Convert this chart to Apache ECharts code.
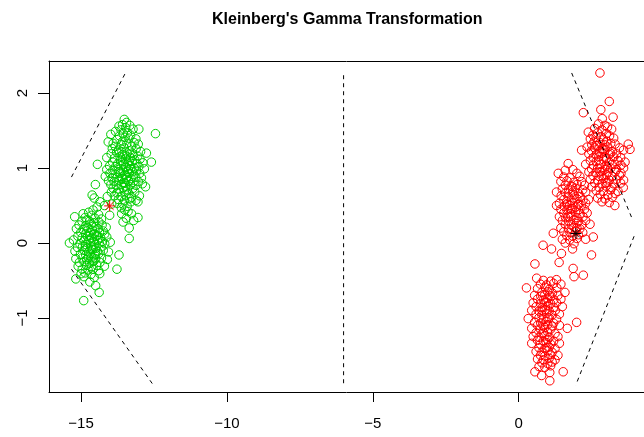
<!DOCTYPE html>
<html>
<head>
<meta charset="utf-8">
<script src="https://cdn.jsdelivr.net/npm/echarts@6/dist/echarts.min.js"></script>
<style>
  html, body { margin: 0; padding: 0; background: #fff; }
  #chart { width: 644px; height: 437px; }
</style>
</head>
<body>
<div id="chart"></div>
<script>
// points, cluster by cluster
const greenUpper = [
  [-13.52,1.65],[-13.44,1.61],[-13.58,1.58],[-13.7,1.56],[-13.47,1.54],[-13.33,1.57],
  [-13.82,1.49],[-13.63,1.51],[-13.41,1.47],[-13.22,1.52],[-13.02,1.52],[-13.55,1.46],
  [-13.98,1.45],[-13.68,1.43],[-13.49,1.41],[-13.3,1.44],[-12.45,1.46],[-13.12,1.39],
  [-13.77,1.38],[-13.57,1.36],[-13.36,1.4],[-13.18,1.34],[-13.9,1.33],
  [-14.07,1.35],[-13.83,1.29],[-13.62,1.31],[-13.43,1.33],[-13.27,1.29],[-13.04,1.32],
  [-13.93,1.26],[-13.71,1.24],[-13.52,1.27],[-13.34,1.23],[-13.11,1.26],[-12.96,1.22],
  [-13.97,1.19],[-13.78,1.21],[-13.58,1.18],[-13.42,1.2],[-13.22,1.17],[-12.76,1.2],[-13.06,1.16],
  [-14.12,1.14],[-13.86,1.13],[-13.66,1.15],[-13.48,1.12],[-13.31,1.14],[-13.16,1.11],[-12.98,1.12],
  [-13.92,1.08],[-13.74,1.06],[-13.57,1.09],[-13.4,1.07],[-13.25,1.09],[-13.08,1.06],[-12.88,1.07],
  [-14.44,1.05],[-14.02,1.03],[-13.81,1.02],[-13.63,1.03],[-13.47,1.01],[-13.33,1.03],[-13.17,1.0],[-13.02,1.02],[-12.59,1.08],
  [-14.12,0.98],[-13.91,0.97],[-13.72,0.98],[-13.55,0.96],[-13.38,0.98],[-13.23,0.95],[-13.1,0.97],[-12.83,0.99],
  [-14.01,0.93],[-13.83,0.92],[-13.66,0.93],[-13.5,0.91],[-13.35,0.93],[-13.19,0.91],[-12.99,0.93],
  [-14.17,0.89],[-13.94,0.87],[-13.76,0.88],[-13.59,0.86],[-13.44,0.88],[-13.28,0.86],[-13.13,0.88],[-12.93,0.87],
  [-14.06,0.83],[-13.87,0.82],[-13.7,0.84],[-13.53,0.81],[-13.38,0.83],[-13.22,0.81],[-13.04,0.82],
  [-13.98,0.78],[-13.79,0.77],[-13.62,0.78],[-13.47,0.76],[-13.31,0.78],[-13.12,0.77],[-12.9,0.79],
  [-14.51,0.78],[-13.9,0.73],[-13.72,0.72],[-13.56,0.74],[-13.41,0.71],[-13.22,0.73],[-12.79,0.75],
  [-13.96,0.68],[-13.77,0.67],[-13.52,0.69],[-13.36,0.66],[-13.16,0.68],
  [-14.62,0.64],[-13.86,0.63],[-13.63,0.62],[-13.46,0.64],[-13.27,0.61],[-13.0,0.63],
  [-13.72,0.58],[-13.51,0.57],[-13.33,0.59],[-13.12,0.57],
  [-13.76,0.53],[-13.57,0.52],[-13.29,0.55],[-13.05,0.55],
  [-13.62,0.47],[-13.42,0.49],[-13.5,0.44],[-13.39,0.42],[-13.61,0.39],[-13.27,0.39],
  [-13.05,0.34],[-13.56,0.28],[-13.35,0.2],[-13.35,0.06],[-13.2,0.3],[-13.45,0.33],
  [-14.55,0.6],[-14.35,0.55],[-14.2,0.5],[-14.45,0.48],[-14.1,0.62],[-13.95,0.52],
  [-13.6,1.22],[-13.45,1.16],[-13.55,1.05],[-13.4,0.95],[-13.6,0.88],[-13.3,0.99],
  [-13.5,0.8],[-13.7,0.95],[-13.35,1.1],[-13.65,1.1],[-13.45,0.85],[-13.25,1.2]
];

const greenLower = [
  [-14.59,0.44],[-14.93,0.39],[-14.74,0.41],[-14.4,0.38],[-14.63,0.37],
  [-15.22,0.35],[-14.86,0.34],[-14.52,0.33],[-14.02,0.37],[-14.3,0.32],
  [-14.97,0.29],[-14.71,0.29],[-14.57,0.27],[-14.39,0.28],[-14.8,0.31],
  [-15.07,0.24],[-14.84,0.23],[-14.66,0.25],[-14.49,0.22],[-14.28,0.24],[-14.14,0.21],
  [-15.16,0.19],[-14.93,0.18],[-14.76,0.2],[-14.61,0.17],[-14.42,0.19],[-14.24,0.16],
  [-15.01,0.14],[-14.85,0.12],[-14.69,0.14],[-14.54,0.12],[-14.37,0.14],[-14.19,0.12],
  [-15.11,0.09],[-14.96,0.07],[-14.79,0.09],[-14.64,0.07],[-14.48,0.09],[-14.33,0.07],[-14.12,0.08],
  [-15.26,0.04],[-14.9,0.03],[-14.73,0.04],[-14.58,0.02],[-14.43,0.04],[-14.27,0.02],
  [-15.4,0.0],[-15.04,-0.01],[-14.84,-0.02],[-14.68,0.0],[-14.53,-0.02],[-14.38,0.0],[-14.19,-0.01],[-14.0,0.01],
  [-15.12,-0.06],[-14.95,-0.05],[-14.79,-0.07],[-14.64,-0.05],[-14.49,-0.07],[-14.31,-0.05],
  [-15.21,-0.11],[-14.89,-0.1],[-14.74,-0.12],[-14.6,-0.09],[-14.44,-0.11],[-14.24,-0.1],[-14.06,-0.12],
  [-15.02,-0.15],[-14.84,-0.16],[-14.69,-0.14],[-14.54,-0.16],[-14.39,-0.14],[-13.7,-0.16],
  [-15.18,-0.21],[-14.96,-0.2],[-14.81,-0.22],[-14.64,-0.19],[-14.5,-0.21],[-14.3,-0.2],[-14.1,-0.22],
  [-15.06,-0.26],[-14.9,-0.25],[-14.71,-0.27],[-14.56,-0.24],[-14.35,-0.26],
  [-15.1,-0.31],[-14.81,-0.3],[-14.64,-0.32],[-14.46,-0.3],[-14.2,-0.31],
  [-14.96,-0.35],[-14.76,-0.36],[-14.59,-0.35],[-14.4,-0.37],[-13.77,-0.35],
  [-15.0,-0.41],[-14.86,-0.4],[-14.66,-0.42],[-14.36,-0.41],
  [-14.9,-0.45],[-14.55,-0.46],[-15.18,-0.48],[-14.7,-0.52],
  [-14.5,-0.57],[-14.38,-0.66],[-14.91,-0.77],
  [-14.7,0.1],[-14.55,0.05],[-14.65,-0.08],[-14.8,0.16],[-14.5,-0.15],
  [-14.6,0.22],[-14.75,-0.2],[-14.45,0.1],[-14.85,-0.05],[-14.6,-0.25]
];

const redUpper = [
  [2.79,2.27],[3.11,1.89],[2.82,1.78],[2.22,1.74],[3.24,1.68],[2.87,1.66],
  [2.74,1.59],[2.96,1.57],[2.61,1.53],[2.86,1.51],[3.19,1.52],[3.05,1.55],
  [2.39,1.48],[2.71,1.47],[3.01,1.46],[2.55,1.44],[2.82,1.42],[3.12,1.43],
  [2.46,1.39],[2.66,1.41],[2.91,1.38],[3.26,1.4],[2.59,1.35],[2.79,1.34],[3.02,1.36],[3.16,1.33],
  [2.51,1.31],[2.7,1.3],[2.96,1.31],[3.31,1.32],[3.76,1.32],
  [2.35,1.28],[2.61,1.27],[2.86,1.26],[3.06,1.28],[3.46,1.27],
  [2.16,1.24],[2.5,1.23],[2.76,1.22],[2.96,1.24],[3.21,1.22],[3.6,1.24],[3.82,1.25],
  [2.41,1.19],[2.66,1.18],[2.86,1.2],[3.11,1.18],[3.36,1.19],
  [2.56,1.14],[2.75,1.15],[3.01,1.13],[3.26,1.15],[3.5,1.14],
  [2.46,1.1],[2.66,1.09],[2.91,1.11],[3.11,1.08],[3.41,1.1],[3.65,1.08],
  [2.3,1.05],[2.56,1.04],[2.81,1.05],[3.0,1.03],[3.21,1.05],[3.51,1.04],
  [2.5,0.99],[2.71,1.0],[2.95,0.98],[3.16,1.0],[3.36,0.98],[3.6,1.0],
  [2.41,0.95],[2.65,0.94],[2.86,0.96],[3.06,0.94],[3.31,0.95],[3.51,0.93],
  [2.55,0.9],[2.76,0.89],[3.01,0.91],[3.21,0.89],[3.46,0.9],
  [2.46,0.85],[2.71,0.84],[2.91,0.86],[3.11,0.84],[3.36,0.85],[3.6,0.84],
  [2.61,0.8],[2.86,0.79],[3.05,0.81],[3.26,0.79],[3.5,0.8],
  [2.51,0.75],[2.76,0.74],[3.0,0.76],[3.2,0.74],[3.59,0.74],
  [2.66,0.7],[2.91,0.69],[3.15,0.71],[3.41,0.69],
  [2.8,0.65],[3.06,0.64],[3.31,0.66],[2.71,0.6],[2.96,0.59],[3.21,0.61],
  [2.86,0.55],[3.11,0.54],[3.3,0.5],
  [2.9,1.25],[2.75,1.1],[3.05,1.0],[2.85,0.9],[3.15,1.2],
  [2.65,1.3],[3.0,0.8],[2.95,1.15],[3.3,1.05],[2.8,0.95]
];

const redMiddle = [
  [1.7,1.06],[1.6,0.97],[1.86,0.98],[1.36,0.93],[2.0,0.93],
  [1.55,0.88],[1.76,0.87],[2.1,0.89],[1.45,0.82],[1.66,0.83],[1.9,0.81],[2.16,0.82],
  [1.6,0.77],[1.81,0.76],[2.01,0.78],[2.26,0.77],[1.5,0.72],[1.71,0.71],[1.95,0.73],[2.2,0.71],
  [1.3,0.68],[1.61,0.67],[1.85,0.68],[2.06,0.66],[2.3,0.68],
  [1.46,0.63],[1.7,0.62],[1.91,0.64],[2.11,0.62],
  [1.55,0.58],[1.8,0.57],[2.0,0.59],[2.21,0.57],[2.4,0.58],
  [1.4,0.53],[1.66,0.52],[1.86,0.54],[2.06,0.52],[2.3,0.53],
  [1.3,0.5],[1.56,0.49],[1.75,0.5],[1.96,0.48],[2.15,0.5],
  [1.45,0.45],[1.66,0.44],[1.85,0.46],[2.05,0.44],[2.26,0.45],
  [1.55,0.4],[1.76,0.39],[1.95,0.41],[2.11,0.39],[2.35,0.4],
  [1.4,0.35],[1.61,0.34],[1.8,0.36],[2.0,0.34],[2.21,0.35],
  [1.5,0.3],[1.71,0.29],[1.9,0.31],[2.06,0.29],[2.3,0.3],
  [1.6,0.25],[1.81,0.24],[2.0,0.26],[2.16,0.24],[2.45,0.25],
  [1.45,0.2],[1.71,0.19],[1.9,0.21],[2.1,0.19],
  [1.55,0.15],[1.76,0.14],[1.96,0.16],[2.2,0.14],
  [1.19,0.13],[2.56,0.08],[1.65,0.1],[1.86,0.09],[2.05,0.11],
  [1.5,0.05],[1.75,0.04],[2.0,0.06],[2.3,0.05],
  [1.6,0.0],[1.9,-0.01],[0.84,-0.03],[1.13,-0.08],[1.85,-0.08],[1.47,-0.14],[2.5,-0.16],
  [1.8,0.45],[1.9,0.6],[1.7,0.35],[2.0,0.2],[1.85,0.75],[1.65,0.55]
];

const redLower = [
  [1.39,-0.26],[0.56,-0.28],[1.87,-0.34],[2.22,-0.43],[1.9,-0.45],[0.62,-0.47],
  [0.85,-0.5],[1.1,-0.51],[1.3,-0.49],[0.75,-0.55],[0.96,-0.56],[1.2,-0.54],[1.45,-0.55],
  [0.27,-0.6],[0.65,-0.61],[0.9,-0.59],[1.05,-0.62],[1.31,-0.6],
  [0.8,-0.66],[1.0,-0.65],[1.16,-0.67],[1.59,-0.66],
  [0.55,-0.7],[0.76,-0.71],[0.9,-0.69],[1.11,-0.71],[1.35,-0.7],
  [0.65,-0.75],[0.85,-0.76],[1.0,-0.74],[1.21,-0.76],[1.45,-0.75],
  [0.5,-0.8],[0.75,-0.81],[0.95,-0.79],[1.1,-0.81],[1.3,-0.8],
  [0.6,-0.85],[0.81,-0.86],[1.0,-0.84],[1.2,-0.86],[1.5,-0.85],
  [0.45,-0.9],[0.7,-0.91],[0.9,-0.89],[1.05,-0.91],[1.26,-0.9],
  [0.6,-0.95],[0.8,-0.96],[0.96,-0.94],[1.15,-0.96],[1.4,-0.95],
  [0.33,-1.01],[0.7,-1.0],[0.86,-1.02],[1.05,-1.0],[1.3,-1.02],
  [0.55,-1.06],[0.76,-1.07],[0.95,-1.05],[1.2,-1.07],[1.99,-1.06],
  [0.65,-1.1],[0.85,-1.11],[1.0,-1.09],[1.16,-1.11],[1.4,-1.1],
  [0.45,-1.14],[0.75,-1.15],[0.9,-1.13],[1.1,-1.15],[1.67,-1.14],
  [0.6,-1.2],[0.8,-1.21],[1.0,-1.19],[1.25,-1.21],
  [0.5,-1.25],[0.7,-1.26],[0.9,-1.24],[1.05,-1.26],[1.35,-1.25],
  [0.65,-1.3],[0.85,-1.31],[1.0,-1.29],[1.2,-1.31],
  [0.45,-1.34],[0.75,-1.35],[0.95,-1.33],[1.1,-1.35],[1.4,-1.34],
  [0.7,-1.4],[0.9,-1.41],[1.05,-1.39],[1.25,-1.41],
  [0.6,-1.45],[0.8,-1.46],[1.0,-1.44],[1.15,-1.46],
  [0.75,-1.5],[0.9,-1.51],[1.1,-1.49],[1.35,-1.5],
  [0.65,-1.55],[0.85,-1.56],[1.05,-1.54],[1.25,-1.56],
  [0.8,-1.6],[1.0,-1.61],[1.15,-1.59],
  [0.7,-1.65],[0.9,-1.66],[1.1,-1.64],
  [0.56,-1.72],[1.53,-1.72],[1.07,-1.73],[0.79,-1.77],[1.07,-1.84],
  [0.9,-0.8],[1.0,-1.0],[0.85,-1.2],[1.05,-0.7],[0.95,-1.4],[0.8,-0.9]
];

const redStar = [[-14.02, 0.495]];
const blackStar = [[1.965, 0.126]];

const dashLines = [
  [[-15.33, 0.88], [-13.48, 2.27]],
  [[-15.33, -0.35], [-12.50, -1.91]],
  [[-6.0, 2.24], [-6.0, -1.92]],
  [[1.82, 2.27], [3.92, 0.30]],
  [[3.96, 0.09], [1.96, -1.90]]
];

const xTicks = [-15, -10, -5, 0];
const yTicks = [-1, 0, 1, 2];

const starPath = 'path://M0,-1L0,1M-1,0L1,0M-0.707,-0.707L0.707,0.707M-0.707,0.707L0.707,-0.707';
const minus = v => String(v).replace('-', '\u2212');

function circles(data, color) {
  return {
    type: 'scatter',
    data: data,
    symbol: 'circle',
    symbolSize: 8.5,
    itemStyle: { color: 'rgba(0,0,0,0)', borderColor: color, borderWidth: 1, opacity: 1 },
    silent: true
  };
}

function star(data, color) {
  return {
    type: 'scatter',
    data: data,
    symbol: starPath,
    symbolSize: 11,
    itemStyle: { color: 'rgba(0,0,0,0)', borderColor: color, borderWidth: 1, opacity: 1 },
    silent: true
  };
}

const series = [
  circles(greenUpper, '#00CD00'),
  circles(greenLower, '#00CD00'),
  circles(redUpper, '#FF0000'),
  circles(redMiddle, '#FF0000'),
  circles(redLower, '#FF0000'),
  star(redStar, '#FF0000'),
  star(blackStar, '#000000')
];
dashLines.forEach(seg => {
  series.push({
    type: 'line',
    data: seg,
    symbol: 'none',
    lineStyle: { color: '#000', width: 1, type: [4, 4] },
    silent: true
  });
});

const xMin = -16.1, xMax = 4.3;

const chart = echarts.init(document.getElementById('chart'), null, { renderer: 'canvas' });
chart.setOption({
  animation: false,
  backgroundColor: '#fff',
  title: {
    text: "Kleinberg's Gamma Transformation",
    left: 207,
    top: 7,
    textStyle: { fontFamily: 'Liberation Sans', fontSize: 16, fontWeight: 'bold', color: '#000' }
  },
  grid: { left: 49, right: 0, top: 61, bottom: 45 },
  xAxis: [{
    type: 'value',
    min: xMin, max: xMax,
    splitLine: { show: false },
    axisLine: { show: true, onZero: false, lineStyle: { color: '#000', width: 1 } },
    axisTick: { show: true, inside: false, length: 10, customValues: xTicks, lineStyle: { color: '#000' } },
    axisLabel: {
      customValues: xTicks, margin: 24, fontSize: 15, color: '#000',
      fontFamily: 'Liberation Sans', formatter: minus
    }
  }, {
    type: 'value',
    position: 'top',
    min: xMin, max: xMax,
    splitLine: { show: false },
    axisLine: { show: true, onZero: false, lineStyle: { color: '#000', width: 1 } },
    axisTick: { show: false },
    axisLabel: { show: false }
  }],
  yAxis: {
    type: 'value',
    min: -1.99, max: 2.43,
    splitLine: { show: false },
    axisLine: { show: true, onZero: false, lineStyle: { color: '#000', width: 1 } },
    axisTick: { show: true, inside: false, length: 11, customValues: yTicks, lineStyle: { color: '#000' } },
    axisLabel: {
      customValues: yTicks, margin: 19, rotate: 90, fontSize: 15, color: '#000',
      fontFamily: 'Liberation Sans', formatter: minus
    }
  },
  series: series
});
</script>
</body>
</html>
